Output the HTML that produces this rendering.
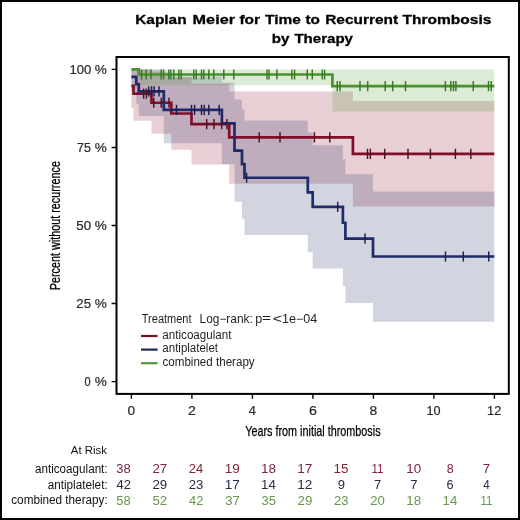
<!DOCTYPE html>
<html><head><meta charset="utf-8"><style>
html,body{margin:0;padding:0;background:#fff;width:520px;height:520px;overflow:hidden}
svg{display:block;will-change:transform}
text{font-family:"Liberation Sans",sans-serif}
</style></head><body>
<svg width="520" height="520" viewBox="0 0 520 520">
<rect x="1" y="1" width="518" height="518" fill="#fff" stroke="#000" stroke-width="2"/>
<path d="M131.4,69.4 L133.5,69.4 L133.5,69.4 L151.5,69.4 L151.5,71.83 L171.3,71.83 L171.3,77.3 L191.5,77.3 L191.5,83.83 L229.2,83.83 L229.2,91.51 L352.9,91.51 L352.9,101.1 L494.3,101.1 L494.3,206.4 L352.9,206.4 L352.9,183.7 L229.2,183.7 L229.2,164.59 L191.5,164.59 L191.5,149.67 L171.3,149.67 L171.3,133.69 L151.5,133.69 L151.5,120.81 L133.5,120.81 L133.5,108 L131.4,108Z" fill="#8c1027" fill-opacity="0.2"/>
<path d="M131.4,69.4 L136.3,69.4 L136.3,69.4 L138.8,69.4 L138.8,69.4 L163.8,69.4 L163.8,76.49 L221.9,76.49 L221.9,82.46 L234.5,82.46 L234.5,99.48 L242,99.48 L242,109.58 L244.5,109.58 L244.5,120.45 L307.8,120.45 L307.8,132.42 L312.7,132.42 L312.7,145.16 L342.9,145.16 L342.9,159.29 L345.4,159.29 L345.4,174.34 L373,174.34 L373,191.4 L494.3,191.4 L494.3,321.63 L373,321.63 L373,302.96 L345.4,302.96 L345.4,286.25 L342.9,286.25 L342.9,268.61 L312.7,268.61 L312.7,252.23 L307.8,252.23 L307.8,235.08 L244.5,235.08 L244.5,218.77 L242,218.77 L242,201.69 L234.5,201.69 L234.5,164.35 L221.9,164.35 L221.9,143.15 L163.8,143.15 L163.8,116.02 L138.8,116.02 L138.8,104.37 L136.3,104.37 L136.3,91.23 L131.4,91.23Z" fill="#1d2664" fill-opacity="0.2"/>
<path d="M131.4,69.4 L138.7,69.4 L138.7,69.4 L332.4,69.4 L332.4,69.4 L494.3,69.4 L494.3,111.5 L332.4,111.5 L332.4,85.24 L138.7,85.24 L138.7,69.4 L131.4,69.4Z" fill="#4f9a2c" fill-opacity="0.2"/>
<path d="M131.4,85.83 H133.5 V93.7 H151.5 V102.76 H171.3 V113.49 H191.5 V124.21 H229.2 V137.4 H352.9 V153.8 H494.3" fill="none" stroke="#800e28" stroke-width="2.7"/>
<path d="M131.4,76.83 H136.3 V84.27 H138.8 V91.4 H163.8 V109.82 H221.9 V123.41 H234.5 V150.59 H242 V164.18 H244.5 V177.76 H307.8 V192.32 H312.7 V206.88 H342.9 V222.77 H345.4 V238.65 H373 V256.52 H494.3" fill="none" stroke="#202a68" stroke-width="2.7"/>
<path d="M131.4,69.4 H138.7 V74.5 H332.4 V86.15 H494.3" fill="none" stroke="#4a932c" stroke-width="2.7"/>
<path d="M143.6,88.6v10.2M146.4,88.6v10.2M153.75,97.66v10.2M161.25,97.66v10.2M169,97.66v10.2M206.7,119.11v10.2M214,119.11v10.2M221.7,119.11v10.2M226.9,119.11v10.2M259.2,132.3v10.2M280,132.3v10.2M314.4,132.3v10.2M329.8,132.3v10.2M367.5,148.7v10.2M370.4,148.7v10.2M384.7,148.7v10.2M408,148.7v10.2M430.4,148.7v10.2M455.4,148.7v10.2M470.8,148.7v10.2" stroke="#521022" stroke-width="1.45" fill="none"/>
<path d="M148.7,86.3v10.2M151.5,86.3v10.2M154.1,86.3v10.2M159,86.3v10.2M176.5,104.72v10.2M191.5,104.72v10.2M194.6,104.72v10.2M201.5,104.72v10.2M204.2,104.72v10.2M208.8,104.72v10.2M219.2,104.72v10.2M246.6,172.66v10.2M337.7,201.78v10.2M365,233.55v10.2M445.5,251.42v10.2M463.3,251.42v10.2M488.75,251.42v10.2" stroke="#182050" stroke-width="1.45" fill="none"/>
<path d="M141.5,69.4v10.2M146.1,69.4v10.2M151,69.4v10.2M161.1,69.4v10.2M163.6,69.4v10.2M168.8,69.4v10.2M170.8,69.4v10.2M173.8,69.4v10.2M178.8,69.4v10.2M181.2,69.4v10.2M193.8,69.4v10.2M196.2,69.4v10.2M201.5,69.4v10.2M203.8,69.4v10.2M208.8,69.4v10.2M213.8,69.4v10.2M223.8,69.4v10.2M233.8,69.4v10.2M267,69.4v10.2M269,69.4v10.2M276.9,69.4v10.2M291.9,69.4v10.2M294.6,69.4v10.2M307.3,69.4v10.2M312.3,69.4v10.2M322.3,69.4v10.2M324.6,69.4v10.2M337.3,81.05v10.2M340,81.05v10.2M360,81.05v10.2M367.7,81.05v10.2M385.2,81.05v10.2M392.7,81.05v10.2M405.5,81.05v10.2M445.4,81.05v10.2M450.8,81.05v10.2M453.5,81.05v10.2M455.9,81.05v10.2M473.3,81.05v10.2M488.5,81.05v10.2M491.2,81.05v10.2" stroke="#367a22" stroke-width="1.45" fill="none"/>
<rect x="116.5" y="57" width="392.3" height="336.9" fill="none" stroke="#000" stroke-width="2"/>
<path d="M111.6,381.60H116.5M111.6,303.55H116.5M111.6,225.50H116.5M111.6,147.45H116.5M111.6,69.40H116.5" stroke="#000" stroke-width="1.4"/>
<path d="M131.40,394V398.8M191.90,394V398.8M252.40,394V398.8M312.90,394V398.8M373.40,394V398.8M433.90,394V398.8M494.40,394V398.8" stroke="#000" stroke-width="1.4"/>
<text x="135.26" y="23.85" font-size="13.6" font-weight="bold" textLength="51.33" lengthAdjust="spacingAndGlyphs" fill="#000" stroke="#000" stroke-width="0.3">Kaplan</text>
<text x="192.61" y="23.85" font-size="13.6" font-weight="bold" textLength="42.36" lengthAdjust="spacingAndGlyphs" fill="#000" stroke="#000" stroke-width="0.3">Meier</text>
<text x="239.46" y="23.85" font-size="13.6" font-weight="bold" textLength="20.67" lengthAdjust="spacingAndGlyphs" fill="#000" stroke="#000" stroke-width="0.3">for</text>
<text x="265.11" y="23.85" font-size="13.6" font-weight="bold" textLength="35.79" lengthAdjust="spacingAndGlyphs" fill="#000" stroke="#000" stroke-width="0.3">Time</text>
<text x="305.51" y="23.85" font-size="13.6" font-weight="bold" textLength="14.51" lengthAdjust="spacingAndGlyphs" fill="#000" stroke="#000" stroke-width="0.3">to</text>
<text x="325.16" y="23.85" font-size="13.6" font-weight="bold" textLength="72.94" lengthAdjust="spacingAndGlyphs" fill="#000" stroke="#000" stroke-width="0.3">Recurrent</text>
<text x="402.51" y="23.85" font-size="13.6" font-weight="bold" textLength="88.87" lengthAdjust="spacingAndGlyphs" fill="#000" stroke="#000" stroke-width="0.3">Thrombosis</text>
<text x="271.88" y="43.3" font-size="13.6" font-weight="bold" textLength="17.61" lengthAdjust="spacingAndGlyphs" fill="#000" stroke="#000" stroke-width="0.3">by</text>
<text x="294.41" y="43.3" font-size="13.6" font-weight="bold" textLength="58.59" lengthAdjust="spacingAndGlyphs" fill="#000" stroke="#000" stroke-width="0.3">Therapy</text>
<text x="69.59" y="73.9" font-size="11.9" textLength="21.77" lengthAdjust="spacingAndGlyphs" fill="#2a2a2a" stroke="#2a2a2a" stroke-width="0.2">100</text>
<text x="94.72" y="73.9" font-size="11.9" textLength="12.04" lengthAdjust="spacingAndGlyphs" fill="#2a2a2a" stroke="#2a2a2a" stroke-width="0.2">%</text>
<text x="77.10" y="151.7" font-size="11.9" textLength="13.86" lengthAdjust="spacingAndGlyphs" fill="#2a2a2a" stroke="#2a2a2a" stroke-width="0.2">75</text>
<text x="94.72" y="151.7" font-size="11.9" textLength="12.04" lengthAdjust="spacingAndGlyphs" fill="#2a2a2a" stroke="#2a2a2a" stroke-width="0.2">%</text>
<text x="76.29" y="229.6" font-size="11.9" textLength="14.80" lengthAdjust="spacingAndGlyphs" fill="#2a2a2a" stroke="#2a2a2a" stroke-width="0.2">50</text>
<text x="94.72" y="229.6" font-size="11.9" textLength="12.04" lengthAdjust="spacingAndGlyphs" fill="#2a2a2a" stroke="#2a2a2a" stroke-width="0.2">%</text>
<text x="76.35" y="307.8" font-size="11.9" textLength="14.74" lengthAdjust="spacingAndGlyphs" fill="#2a2a2a" stroke="#2a2a2a" stroke-width="0.2">25</text>
<text x="94.72" y="307.8" font-size="11.9" textLength="12.04" lengthAdjust="spacingAndGlyphs" fill="#2a2a2a" stroke="#2a2a2a" stroke-width="0.2">%</text>
<text x="84.39" y="385.6" font-size="11.9" textLength="6.12" lengthAdjust="spacingAndGlyphs" fill="#2a2a2a" stroke="#2a2a2a" stroke-width="0.2">0</text>
<text x="94.72" y="385.6" font-size="11.9" textLength="12.04" lengthAdjust="spacingAndGlyphs" fill="#2a2a2a" stroke="#2a2a2a" stroke-width="0.2">%</text>
<text x="127.60" y="415.0" font-size="12.3" textLength="7.57" lengthAdjust="spacingAndGlyphs" fill="#2a2a2a" stroke="#2a2a2a" stroke-width="0.2">0</text>
<text x="187.93" y="415.0" font-size="12.3" textLength="7.91" lengthAdjust="spacingAndGlyphs" fill="#2a2a2a" stroke="#2a2a2a" stroke-width="0.2">2</text>
<text x="248.89" y="415.0" font-size="12.3" textLength="7.12" lengthAdjust="spacingAndGlyphs" fill="#2a2a2a" stroke="#2a2a2a" stroke-width="0.2">4</text>
<text x="308.93" y="415.0" font-size="12.3" textLength="7.91" lengthAdjust="spacingAndGlyphs" fill="#2a2a2a" stroke="#2a2a2a" stroke-width="0.2">6</text>
<text x="369.58" y="415.0" font-size="12.3" textLength="7.74" lengthAdjust="spacingAndGlyphs" fill="#2a2a2a" stroke="#2a2a2a" stroke-width="0.2">8</text>
<text x="426.57" y="415.0" font-size="12.3" textLength="14.08" lengthAdjust="spacingAndGlyphs" fill="#2a2a2a" stroke="#2a2a2a" stroke-width="0.2">10</text>
<text x="487.06" y="415.0" font-size="12.3" textLength="14.22" lengthAdjust="spacingAndGlyphs" fill="#2a2a2a" stroke="#2a2a2a" stroke-width="0.2">12</text>
<text x="245.28" y="436.4" font-size="15" textLength="135.31" lengthAdjust="spacingAndGlyphs" fill="#000" stroke="#000" stroke-width="0.25">Years from initial thrombosis</text>
<text x="141.82" y="322.5" font-size="12" textLength="49.64" lengthAdjust="spacingAndGlyphs" fill="#1e1e1e">Treatment</text>
<text x="199.56" y="322.6" font-size="12" textLength="53.28" lengthAdjust="spacingAndGlyphs" fill="#1e1e1e">Log−rank:</text>
<text x="255.37" y="322.6" font-size="12" textLength="6.97" lengthAdjust="spacingAndGlyphs" fill="#1e1e1e">p</text>
<text x="262.06" y="322.2" font-size="12" textLength="8.91" lengthAdjust="spacingAndGlyphs" fill="#1e1e1e">=</text>
<text x="272.80" y="322.6" font-size="13.5" textLength="9.41" lengthAdjust="spacingAndGlyphs" fill="#1e1e1e">&lt;</text>
<text x="282.14" y="322.6" font-size="12" textLength="35.15" lengthAdjust="spacingAndGlyphs" fill="#1e1e1e">1e−04</text>
<text x="162.37" y="338.6" font-size="12" textLength="69.12" lengthAdjust="spacingAndGlyphs" fill="#1e1e1e">anticoagulant</text>
<text x="162.37" y="352.4" font-size="12" textLength="55.62" lengthAdjust="spacingAndGlyphs" fill="#1e1e1e">antiplatelet</text>
<text x="162.47" y="365.5" font-size="12" textLength="92.20" lengthAdjust="spacingAndGlyphs" fill="#1e1e1e">combined therapy</text>
<text x="70.85" y="454.0" font-size="11.4" textLength="36.08" lengthAdjust="spacingAndGlyphs" fill="#111">At Risk</text>
<text x="34.96" y="472.7" font-size="12" textLength="72.66" lengthAdjust="spacingAndGlyphs" fill="#111">anticoagulant:</text>
<text x="47.66" y="489.0" font-size="12" textLength="60.00" lengthAdjust="spacingAndGlyphs" fill="#111">antiplatelet:</text>
<text x="11.26" y="504.1" font-size="12" textLength="96.47" lengthAdjust="spacingAndGlyphs" fill="#111">combined therapy:</text>
<text x="116.25" y="472.5" font-size="11.9" textLength="14.48" lengthAdjust="spacingAndGlyphs" fill="#7e2438">38</text>
<text x="152.40" y="472.5" font-size="11.9" textLength="14.78" lengthAdjust="spacingAndGlyphs" fill="#7e2438">27</text>
<text x="188.72" y="472.5" font-size="11.9" textLength="14.48" lengthAdjust="spacingAndGlyphs" fill="#7e2438">24</text>
<text x="224.70" y="472.5" font-size="11.9" textLength="15.09" lengthAdjust="spacingAndGlyphs" fill="#7e2438">19</text>
<text x="261.01" y="472.5" font-size="11.9" textLength="14.93" lengthAdjust="spacingAndGlyphs" fill="#7e2438">18</text>
<text x="297.30" y="472.5" font-size="11.9" textLength="15.09" lengthAdjust="spacingAndGlyphs" fill="#7e2438">17</text>
<text x="333.61" y="472.5" font-size="11.9" textLength="14.93" lengthAdjust="spacingAndGlyphs" fill="#7e2438">15</text>
<text x="371.51" y="472.5" font-size="11.9" textLength="11.92" lengthAdjust="spacingAndGlyphs" fill="#7e2438">11</text>
<text x="406.21" y="472.5" font-size="11.9" textLength="14.93" lengthAdjust="spacingAndGlyphs" fill="#7e2438">10</text>
<text x="446.73" y="472.5" font-size="11.9" textLength="6.95" lengthAdjust="spacingAndGlyphs" fill="#7e2438">8</text>
<text x="482.86" y="472.5" font-size="11.9" textLength="7.27" lengthAdjust="spacingAndGlyphs" fill="#7e2438">7</text>
<text x="116.53" y="489.3" font-size="11.9" textLength="14.33" lengthAdjust="spacingAndGlyphs" fill="#262c4c">42</text>
<text x="152.40" y="489.3" font-size="11.9" textLength="14.78" lengthAdjust="spacingAndGlyphs" fill="#262c4c">29</text>
<text x="188.71" y="489.3" font-size="11.9" textLength="14.63" lengthAdjust="spacingAndGlyphs" fill="#262c4c">23</text>
<text x="224.70" y="489.3" font-size="11.9" textLength="15.09" lengthAdjust="spacingAndGlyphs" fill="#262c4c">17</text>
<text x="261.02" y="489.3" font-size="11.9" textLength="14.78" lengthAdjust="spacingAndGlyphs" fill="#262c4c">14</text>
<text x="297.30" y="489.3" font-size="11.9" textLength="15.09" lengthAdjust="spacingAndGlyphs" fill="#262c4c">12</text>
<text x="337.66" y="489.3" font-size="11.9" textLength="7.27" lengthAdjust="spacingAndGlyphs" fill="#262c4c">9</text>
<text x="373.96" y="489.3" font-size="11.9" textLength="7.27" lengthAdjust="spacingAndGlyphs" fill="#262c4c">7</text>
<text x="410.26" y="489.3" font-size="11.9" textLength="7.27" lengthAdjust="spacingAndGlyphs" fill="#262c4c">7</text>
<text x="446.58" y="489.3" font-size="11.9" textLength="7.11" lengthAdjust="spacingAndGlyphs" fill="#262c4c">6</text>
<text x="483.30" y="489.3" font-size="11.9" textLength="6.51" lengthAdjust="spacingAndGlyphs" fill="#262c4c">4</text>
<text x="116.25" y="505.3" font-size="11.9" textLength="14.48" lengthAdjust="spacingAndGlyphs" fill="#66984e">58</text>
<text x="152.55" y="505.3" font-size="11.9" textLength="14.63" lengthAdjust="spacingAndGlyphs" fill="#66984e">52</text>
<text x="189.13" y="505.3" font-size="11.9" textLength="14.33" lengthAdjust="spacingAndGlyphs" fill="#66984e">42</text>
<text x="225.15" y="505.3" font-size="11.9" textLength="14.63" lengthAdjust="spacingAndGlyphs" fill="#66984e">37</text>
<text x="261.45" y="505.3" font-size="11.9" textLength="14.48" lengthAdjust="spacingAndGlyphs" fill="#66984e">35</text>
<text x="297.60" y="505.3" font-size="11.9" textLength="14.78" lengthAdjust="spacingAndGlyphs" fill="#66984e">29</text>
<text x="333.91" y="505.3" font-size="11.9" textLength="14.63" lengthAdjust="spacingAndGlyphs" fill="#66984e">23</text>
<text x="370.21" y="505.3" font-size="11.9" textLength="14.63" lengthAdjust="spacingAndGlyphs" fill="#66984e">20</text>
<text x="406.21" y="505.3" font-size="11.9" textLength="14.93" lengthAdjust="spacingAndGlyphs" fill="#66984e">18</text>
<text x="442.52" y="505.3" font-size="11.9" textLength="14.78" lengthAdjust="spacingAndGlyphs" fill="#66984e">14</text>
<text x="480.41" y="505.3" font-size="11.9" textLength="11.92" lengthAdjust="spacingAndGlyphs" fill="#66984e">11</text>
<text x="0" y="0" font-size="15" textLength="129.2" lengthAdjust="spacingAndGlyphs" fill="#000" stroke="#000" stroke-width="0.25" transform="translate(59.9,290.3) rotate(-90)">Percent without recurrence</text>
<path d="M141,336.0H157.6" stroke="#761022" stroke-width="2.2"/>
<path d="M141,349.6H157.6" stroke="#1e2a55" stroke-width="2.2"/>
<path d="M141,363.2H157.6" stroke="#559838" stroke-width="2.2"/>
</svg>
</body></html>
